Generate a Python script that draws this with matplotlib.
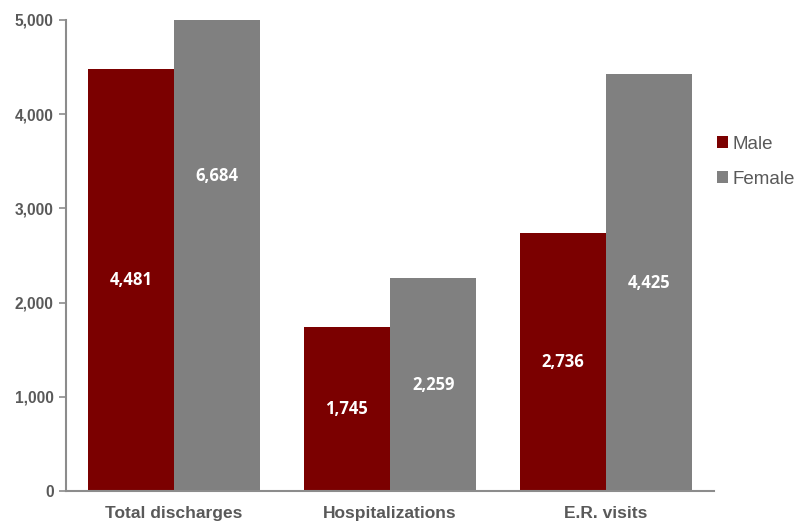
import matplotlib
matplotlib.use('Agg')
import matplotlib.pyplot as plt
import numpy as np

categories = ['Total discharges', 'Hospitalizations', 'E.R. visits']
male = [4481, 1745, 2736]
female = [6684, 2259, 4425]
yticks = [0, 1000, 2000, 3000, 4000, 5000]

red = '#7B0000'
grey = '#808080'
txt = '#595959'

fig = plt.figure(figsize=(7.95, 5.23), dpi=100)
ax = fig.add_axes([66/795, 1-491/523, 648/795, 471/523])

x = np.arange(len(categories))
w = 0.4
ax.bar(x - w/2, male, w, color=red, label='Male')
ax.bar(x + w/2, female, w, color=grey, label='Female')

for xs, vals in ((x - w/2, male), (x + w/2, female)):
  for xi, v in zip(xs, vals):
    ax.text(xi, v/2, f'{v:,}', ha='center', va='center', color='white',
            fontsize=12, fontweight='bold', family=['Open Sans', 'DejaVu Sans'])

ax.set_xlim(-0.5, 2.5)
ax.set_ylim(0, 5000)
ax.set_yticks(yticks)
ax.set_yticklabels([f'{t:,}' for t in yticks], fontsize=11.2, fontweight='bold',
                   color=txt, family=['Liberation Sans', 'DejaVu Sans'])
ax.set_xticks(x)
ax.set_xticklabels(categories, fontsize=12.5, fontweight='bold', color=txt,
                   family=['Liberation Sans', 'DejaVu Sans'])
ax.tick_params(axis='x', length=0, pad=11)
ax.tick_params(axis='y', length=5, color='#8C8C8C', width=1.2, pad=4)

for s in ('top', 'right'):
  ax.spines[s].set_visible(False)
for s in ('left', 'bottom'):
  ax.spines[s].set_color('#8C8C8C')
  ax.spines[s].set_linewidth(1.5)

leg = ax.legend(loc='upper left', bbox_to_anchor=(717/795, 1-136/523),
                bbox_transform=fig.transFigure, frameon=False,
                handlelength=0.6, handleheight=0.6, handletextpad=0.2,
                labelspacing=0.95, borderaxespad=0, borderpad=0,
                prop={'family': ['Liberation Sans', 'DejaVu Sans'], 'size': 13.5})
for t in leg.get_texts():
  t.set_color(txt)

fig.savefig('out.png', dpi=100)
